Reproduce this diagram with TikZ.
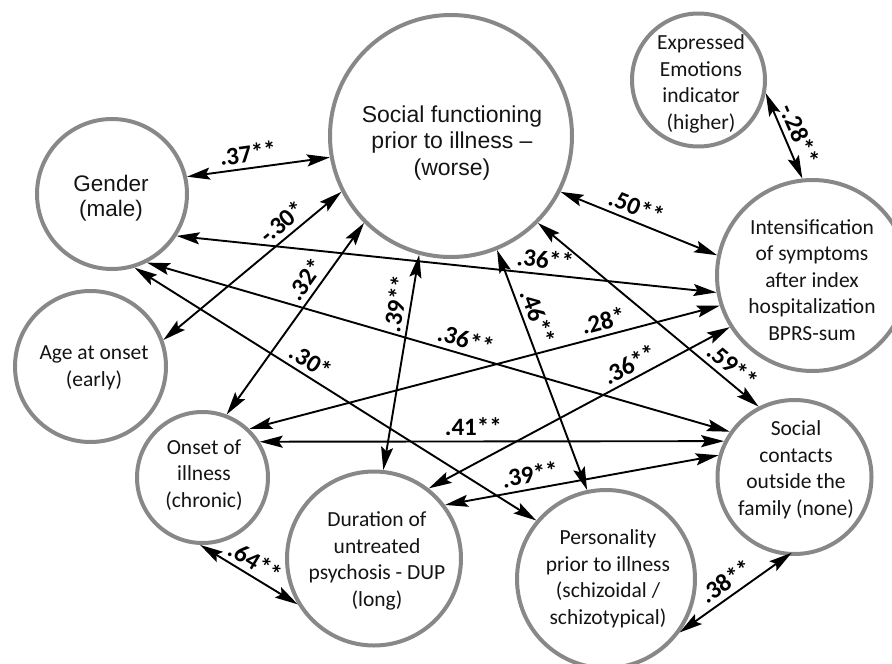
\documentclass[tikz,border=0pt]{standalone}
\usepackage{fontspec}
\setmainfont{Carlito}
\newfontfamily\arialf{Liberation Sans}
\usetikzlibrary{arrows.meta}
\definecolor{ring}{RGB}{136,136,136}
\definecolor{ink}{RGB}{20,20,20}
\begin{document}
\begin{tikzpicture}[x=1pt,y=-1pt,
  ringnode/.style={circle,draw=ring,line width=4pt,inner sep=0pt},
  txt/.style={align=center,inner sep=0pt,text=ink,font=\fontsize{21.5}{26.5}\selectfont},
  txta/.style={align=center,inner sep=0pt,text=ink,font=\arialf\fontsize{23}{26.5}\selectfont},
  edge/.style={line width=1.9pt,{Stealth[length=23pt,width=12pt,inset=4pt]}-{Stealth[length=23pt,width=12pt,inset=4pt]}},
  lab/.style={sloped,above=4pt,inner sep=1pt,font=\bfseries\fontsize{25}{25}\selectfont}]
\useasboundingbox (0,0) rectangle (892,664);

% circles
\node[ringnode,minimum size=242pt] (sf) at (451,136) {};
\node[ringnode,minimum size=150pt] (gender) at (112,194) {};
\node[ringnode,minimum size=151pt] (age) at (90.5,366.5) {};
\node[ringnode,minimum size=133pt] (ee) at (698.5,80) {};
\node[ringnode,minimum size=191pt] (int) at (812.5,275.5) {};
\node[ringnode,minimum size=154pt] (sc) at (794.5,477) {};
\node[ringnode,minimum size=178pt] (pers) at (606,579) {};
\node[ringnode,minimum size=174pt] (dup) at (374,558.5) {};
\node[ringnode,minimum size=131pt] (onset) at (202.5,477.5) {};

% texts
\node[txta] (sft) at (452,143) {Social functioning\\prior to illness –\\(worse)};
\node[txta,font=\arialf\fontsize{22.5}{25}\selectfont] (gendert) at (111,198) {Gender\\(male)};
\node[txt] (aget) at (94,368) {Age at onset\\(early)};
\node[txt] (eet) at (701,84) {Expressed\\Emotions\\indicator\\(higher)};
\node[txt] (intt) at (812,280) {Intensification\\of symptoms\\after index\\hospitalization\\BPRS-sum};
\node[txt] (sct) at (796,470) {Social\\contacts\\outside the\\family (none)};
\node[txt] (perst) at (608,579) {Personality\\prior to illness\\(schizoidal /\\schizotypical)};
\node[txt] (dupt) at (377,561) {Duration of\\untreated\\psychosis - DUP\\(long)};
\node[txt] (onsett) at (204,475) {Onset of\\illness\\(chronic)};

% connectors
\draw[edge] (gender.13) -- node[lab,pos=.44]{.37**} (sf.190);
\draw[edge] (age.20) -- node[lab,pos=.72]{-.30*} (sf.207);
\draw[edge] (onset.69) -- node[lab,pos=.66]{.32*} (sf.225);
\draw[edge] (dup.84) -- node[lab,pos=.76]{.39**} (sf.255);
\draw[edge] (gender.-33) -- node[lab,pos=.68]{.36**} (int.190);
\draw[edge] (gender.-63) -- node[lab,pos=.54]{.36**} (sc.145);
\draw[edge] (gender.-73) -- node[lab,pos=.42]{.30*} (pers.140);
\draw[edge] (sf.-68) -- node[lab,pos=.30]{.46**} (pers.102);
\draw[edge] (sf.-27) -- node[lab,pos=.45]{.50**} (int.168);
\draw[edge] (sf.-45) -- node[lab,pos=.84]{.59**} (sc.117);
\draw[edge] (onset.46) -- node[lab,pos=.76]{.28*} (int.198);
\draw[edge] (dup.52) -- node[lab,pos=.69]{.36**} (int.212);
\draw[edge] (onset.32) -- node[lab,pos=.46]{.41**} (sc.153);
\draw[edge] (dup.37) -- node[lab,pos=.32]{.39**} (sc.164);
\draw[edge] (onset.-92) -- node[lab,pos=.49]{.64**} (dup.211);
\draw[edge,shorten >=-5pt] (pers.-36) -- node[lab,pos=.51]{.38**} (sc.-95);
\draw[edge] (ee.-11) -- node[lab,pos=.55]{-.28**} (int.96);
\end{tikzpicture}
\end{document}
